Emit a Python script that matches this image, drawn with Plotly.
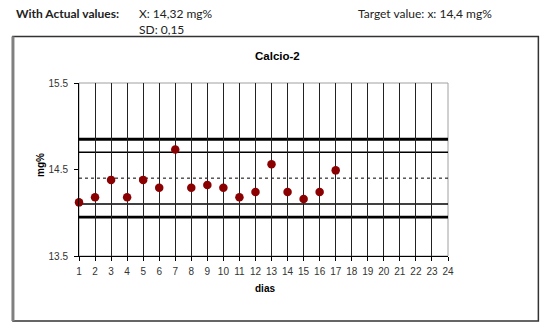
import plotly.graph_objects as go

# ---- data ----
days = list(range(1, 18))
values = [14.12, 14.18, 14.38, 14.18, 14.38, 14.29, 14.73, 14.29, 14.32,
          14.29, 14.18, 14.24, 14.56, 14.24, 14.16, 14.24, 14.49]
target = 14.4
sd = 0.15
x_ticks = list(range(1, 25))
y_ticks = [13.5, 14.5, 15.5]
title = "Calcio-2"
header_left = "With Actual values:"
header_mean = "X: 14,32 mg%"
header_sd = "SD: 0,15"
header_target = "Target value: x: 14,4 mg%"

# ---- layout geometry (pixels) ----
W, H = 550, 333
L, R, T, B = 79, 447.7, 83, 256

def px(x):
    return (x - L) / (R - L)

def py(y):
    return (B - y) / (B - T)

fig = go.Figure()
fig.add_trace(go.Scatter(
    x=days, y=values, mode="markers",
    marker=dict(color="#8B0000", size=8.5, line=dict(width=0)),
    showlegend=False, cliponaxis=False))

shapes = []
# outer frame
shapes.append(dict(type="rect", xref="paper", yref="paper",
                   x0=px(13), x1=px(538), y0=py(321), y1=py(36.5),
                   line=dict(color="#333333", width=1.5), layer="below"))
shapes.append(dict(type="line", xref="paper", yref="paper",
                   x0=px(13), x1=px(13), y0=py(321), y1=py(36.5),
                   line=dict(color="#808080", width=3), layer="below"))
# plot border (grey)
shapes.append(dict(type="rect", xref="paper", yref="paper",
                   x0=0, x1=1, y0=0, y1=1,
                   line=dict(color="#a0a0a0", width=1), layer="below"))
# control lines
ref_lines = [
    (target + 3 * sd, 2.8, "solid"),
    (target + 2 * sd, 1.5, "solid"),
    (target, 1, "dot"),
    (target - 2 * sd, 1.5, "solid"),
    (target - 3 * sd, 2.8, "solid"),
]
for yv, w, d in ref_lines:
    shapes.append(dict(type="line", xref="paper", yref="y",
                       x0=0, x1=1, y0=yv, y1=yv,
                       line=dict(color="black", width=w, dash=d), layer="below"))

hdr_font = dict(family="Lato, Liberation Sans, sans-serif", size=12, color="#222222")
annotations = [
    dict(text="<b>" + header_left + "</b>", x=px(14), y=py(14), xanchor="left", yanchor="middle", font=hdr_font),
    dict(text=header_mean, x=px(137), y=py(14), xanchor="left", yanchor="middle", font=hdr_font),
    dict(text=header_sd, x=px(137), y=py(29.5), xanchor="left", yanchor="middle", font=hdr_font),
    dict(text=header_target, x=px(356), y=py(14), xanchor="left", yanchor="middle", font=hdr_font),
    dict(text="<b>" + title + "</b>", x=px(277), y=py(56), xanchor="center", yanchor="middle",
         font=dict(family="Liberation Sans, Arial", size=11.5, color="black")),
    dict(text="<b>mg%</b>", x=px(40), y=py(165), xanchor="center", yanchor="middle", textangle=-90,
         font=dict(family="Liberation Sans, Arial", size=10, color="black")),
    dict(text="<b>dias</b>", x=px(265), y=py(288), xanchor="center", yanchor="middle",
         font=dict(family="Liberation Sans, Arial", size=10, color="black")),
]
for a in annotations:
    a.update(xref="paper", yref="paper", showarrow=False)

fig.update_layout(
    width=W, height=H,
    margin=dict(l=L, r=W - R, t=T, b=H - B, pad=0),
    paper_bgcolor="white", plot_bgcolor="white",
    shapes=shapes, annotations=annotations,
    font=dict(family="Liberation Sans, Arial", size=10, color="#333333"),
)
fig.update_xaxes(range=[1, 24], tickvals=x_ticks, showgrid=True, gridcolor="#222222", gridwidth=1,
                 showline=True, linecolor="black", linewidth=1, ticks="outside", ticklen=4,
                 tickcolor="black", zeroline=False, layer="below traces", ticklabelstandoff=2)
fig.update_yaxes(range=[13.5, 15.5], tickvals=y_ticks, ticktext=[f"{v:.1f}" for v in y_ticks],
                 showgrid=False, showline=True, linecolor="black", linewidth=1,
                 ticks="outside", ticklen=4, tickcolor="black", zeroline=False,
                 ticklabelstandoff=4)

fig.write_html("out.html")
